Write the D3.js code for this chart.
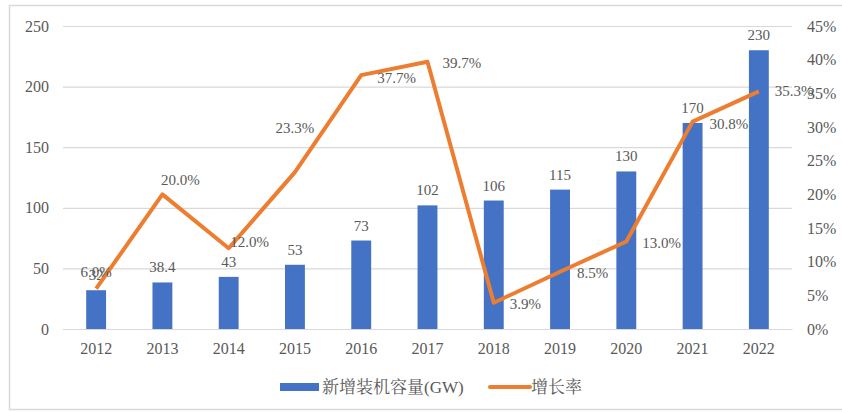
<!DOCTYPE html>
<html>
<head>
<meta charset="utf-8">
<script src="https://cdn.jsdelivr.net/npm/d3@7"></script>
<style>
  body { margin: 0; background: #fff; }
</style>
</head>
<body>
<svg width="842" height="412"></svg>
<script>
const years = ['2012','2013','2014','2015','2016','2017','2018','2019','2020','2021','2022'];
const capacity = [32, 38.4, 43, 53, 73, 102, 106, 115, 130, 170, 230];
const growth = [6.0, 20.0, 12.0, 23.3, 37.7, 39.7, 3.9, 8.5, 13.0, 30.8, 35.3];
const leftTicks = [0, 50, 100, 150, 200, 250];
const rightTicks = [0, 5, 10, 15, 20, 25, 30, 35, 40, 45];
const seriesNames = ['新增装机容量(GW)', '增长率'];

// label placement for the growth line: [dx, dy, anchor]
const growthLabelPlace = [
  [0, -12, 'middle'], [18, -9, 'middle'], [21, -1, 'middle'], [0, -39, 'middle'],
  [16, 8, 'start'], [15, 6, 'start'], [16, 6, 'start'], [17, 6, 'start'],
  [16, 7, 'start'], [17, 7, 'start'], [16, 5, 'start']
];

const FONT = '"Liberation Serif", "Noto Serif CJK SC"';

function whenLoaded(){
  const svg = d3.select('svg');
  const margin = {top: 26, left: 63};
  const innerW = 792 - margin.left;
  const innerH = 329 - margin.top;

  // chart frame
  svg.append('rect')
    .attr('x', 9.5).attr('y', 5.5)
    .attr('width', 850).attr('height', 404)
    .attr('fill', 'none').attr('stroke', '#d9d9d9').attr('stroke-width', 1.5);

  const g = svg.append('g').attr('transform', `translate(${margin.left},${margin.top})`);

  const x = d3.scaleBand().domain(years).range([0, innerW]).paddingInner(0.7).paddingOuter(0.35);
  const xc = d3.scaleBand().domain(years).range([0, innerW]);
  const y = d3.scaleLinear().domain([0, 250]).range([innerH, 0]);
  const y2 = d3.scaleLinear().domain([0, 45]).range([innerH, 0]);

  // gridlines + left axis
  const yAxis = d3.axisLeft(y).tickValues(leftTicks).tickSize(-innerW).tickPadding(14);
  const yG = g.append('g').call(yAxis);
  yG.select('.domain').remove();
  yG.selectAll('line').attr('stroke', '#d9d9d9').attr('stroke-width', 1.2);
  yG.selectAll('text').attr('font-size', 16);

  // right axis
  const y2Axis = d3.axisRight(y2).tickValues(rightTicks).tickSize(0).tickPadding(15)
    .tickFormat(d => d + '%');
  const y2G = g.append('g').attr('transform', `translate(${innerW},0)`).call(y2Axis);
  y2G.select('.domain').remove();
  y2G.selectAll('text').attr('font-size', 16);

  // x axis
  const xAxis = d3.axisBottom(xc).tickSize(0).tickPadding(14);
  const xG = g.append('g').attr('transform', `translate(0,${innerH})`).call(xAxis);
  xG.select('.domain').attr('stroke', '#d9d9d9').attr('stroke-width', 1.2);
  xG.selectAll('text').attr('font-size', 16);

  // bars
  g.selectAll('rect.bar').data(capacity).enter().append('rect')
    .attr('class', 'bar')
    .attr('x', (d, i) => x(years[i]))
    .attr('y', d => y(d))
    .attr('width', x.bandwidth())
    .attr('height', d => innerH - y(d))
    .attr('fill', '#4472c4');

  g.selectAll('text.barlab').data(capacity).enter().append('text')
    .attr('class', 'barlab')
    .attr('x', (d, i) => xc(years[i]) + xc.bandwidth() / 2)
    .attr('y', d => y(d) - 10)
    .attr('text-anchor', 'middle')
    .attr('font-size', 15)
    .text(d => d);

  // growth line
  const px = (d, i) => xc(years[i]) + xc.bandwidth() / 2;
  const line = d3.line().x(px).y(d => y2(d));
  g.append('path').datum(growth)
    .attr('d', line)
    .attr('fill', 'none')
    .attr('stroke', '#ed7d31')
    .attr('stroke-width', 4)
    .attr('stroke-linejoin', 'round');

  g.selectAll('text.glab').data(growth).enter().append('text')
    .attr('class', 'glab')
    .attr('x', (d, i) => px(d, i) + growthLabelPlace[i][0])
    .attr('y', (d, i) => y2(d) + growthLabelPlace[i][1])
    .attr('text-anchor', (d, i) => growthLabelPlace[i][2])
    .attr('font-size', 15)
    .text(d => d.toFixed(1) + '%');

  // legend
  const lg = svg.append('g').attr('transform', 'translate(280,387)');
  lg.append('rect').attr('x', 0).attr('y', -4).attr('width', 39).attr('height', 8).attr('fill', '#4472c4');
  lg.append('text').attr('x', 42).attr('y', 6).attr('font-size', 17).text(seriesNames[0]);
  lg.append('line').attr('x1', 210).attr('x2', 250).attr('y1', 0).attr('y2', 0)
    .attr('stroke', '#ed7d31').attr('stroke-width', 4).attr('stroke-linecap', 'round');
  lg.append('text').attr('x', 251).attr('y', 6).attr('font-size', 17).text(seriesNames[1]);

  svg.selectAll('text').style('font-family', FONT).style('fill', '#595959');
}

window.onload = whenLoaded;
</script>
</body>
</html>
